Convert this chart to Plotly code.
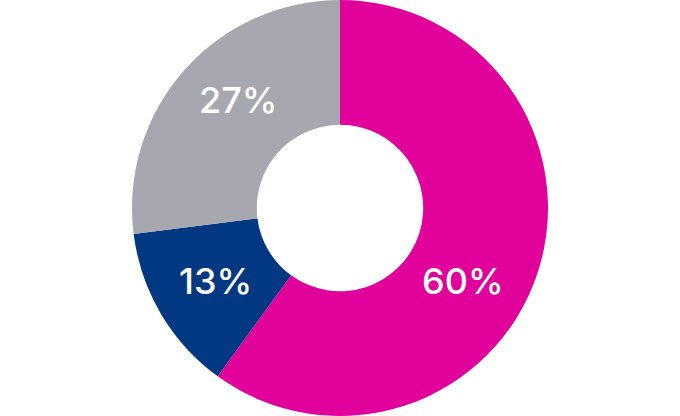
import plotly.graph_objects as go

labels = ["A", "B", "C"]
values = [60, 13, 27]
colors = ["#E0029A", "#023781", "#A7A8AF"]
# label centres (pixels in the 680x416 figure)
label_pos = [(463, 281), (215, 281), (239, 100)]

W, H = 680, 416

fig = go.Figure(go.Pie(
    labels=labels,
    values=values,
    hole=0.4,
    sort=False,
    direction="clockwise",
    rotation=0,
    marker=dict(colors=colors, line=dict(width=0)),
    textinfo="none",
    showlegend=False,
    hoverinfo="skip",
))

total = sum(values)
for v, (px, py) in zip(values, label_pos):
    fig.add_annotation(
        x=px / W, y=1 - py / H, xref="paper", yref="paper",
        text=f"{round(100 * v / total)}%",
        showarrow=False, xanchor="center", yanchor="middle",
        font=dict(color="white", size=36, family="Inter", weight=500),
    )

fig.update_layout(
    width=W, height=H,
    margin=dict(l=0, r=0, t=0, b=0),
    paper_bgcolor="white",
    plot_bgcolor="white",
)
fig.write_html("out.html", config={"displayModeBar": False},
               post_script="document.body.style.margin='0';")
